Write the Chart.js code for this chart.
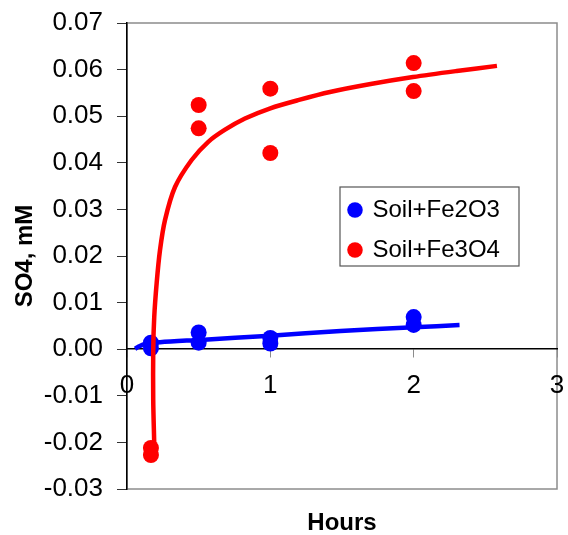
<!DOCTYPE html>
<html>
<head>
<meta charset="utf-8">
<script src="https://cdn.jsdelivr.net/npm/chart.js@4/dist/chart.umd.min.js"></script>
<style>
  body { margin: 0; background: #fff; }
  #wrap { width: 568px; height: 535px; position: relative; }
</style>
</head>
<body>
<div id="wrap"><canvas id="chart"></canvas></div>
<script>
// sampling times (hours) and measured sulfate (mM)
const hoursFe2O3 = [0.167, 0.167, 0.5, 0.5, 1, 1, 2, 2];
const so4Fe2O3 = [0.0014, 0.0002, 0.0036, 0.0014, 0.0024, 0.0012, 0.0069, 0.0052];
const hoursFe3O4 = [0.167, 0.167, 0.5, 0.5, 1, 1, 2, 2];
const so4Fe3O4 = [-0.0212, -0.0227, 0.0524, 0.0474, 0.0559, 0.0421, 0.0614, 0.0554];

// fitted trend curves
const trendHoursFe2O3 = [0.056, 0.084, 0.126, 0.23, 0.51, 1.0, 1.49, 2.0, 2.32];
const trendFe2O3 = [0.0001, 0.0006, 0.0011, 0.0015, 0.0020, 0.0029, 0.0039, 0.0047, 0.0052];
const trendHoursFe3O4 = [0.190, 0.183, 0.183, 0.190, 0.207, 0.230, 0.265, 0.335, 0.451, 0.567, 0.684, 0.823, 1.0, 1.2, 1.416, 1.7, 1.995, 2.3, 2.581];
const trendFe3O4 = [-0.0202, -0.0109, -0.0002, 0.0069, 0.0142, 0.0212, 0.0277, 0.0348, 0.0406, 0.0445, 0.0471, 0.0495, 0.0517, 0.0535, 0.0552, 0.0569, 0.0584, 0.0597, 0.0608];

const xTicks = [0, 1, 2, 3];
const yTicks = [-0.03, -0.02, -0.01, 0, 0.01, 0.02, 0.03, 0.04, 0.05, 0.06, 0.07];

const labels = ['Soil+Fe2O3', 'Soil+Fe3O4'];
const BLUE = '#0000ff';
const RED = '#ff0000';
const FONT = '"Liberation Sans", Arial, sans-serif';

const toPoints = (xs, ys) => xs.map((x, i) => ({ x: x, y: ys[i] }));

// gray plot frame (left edge is the black y axis)
const framePlugin = {
  id: 'frame',
  beforeDraw(chart) {
    const { ctx, chartArea: a } = chart;
    ctx.save();
    ctx.strokeStyle = '#8c8c8c';
    ctx.lineWidth = 1.5;
    ctx.strokeRect(a.left, a.top, a.right - a.left, a.bottom - a.top);
    ctx.restore();
  }
};

// put the legend inside the plot and box it
const legendBoxPlugin = {
  id: 'legendBox',
  afterLayout(chart) {
    const lg = chart.legend;
    const a = chart.chartArea;
    const w = lg.width, h = lg.height;
    lg.left = a.left + 206.5;
    lg.top = a.top + 159;
    lg.right = lg.left + w;
    lg.bottom = lg.top + h;
  },
  afterDraw(chart) {
    const { ctx, chartArea: a } = chart;
    ctx.save();
    ctx.strokeStyle = '#555';
    ctx.lineWidth = 1.2;
    ctx.strokeRect(a.left + 213, a.top + 164, 179, 79);
    ctx.restore();
  }
};

new Chart(document.getElementById('chart'), {
  type: 'scatter',
  data: {
    datasets: [
      {
        label: '',
        data: toPoints(trendHoursFe3O4, trendFe3O4),
        showLine: true,
        borderColor: RED,
        borderWidth: 4.5,
        pointRadius: 0,
        tension: 0.3
      },
      {
        label: labels[1],
        data: toPoints(hoursFe3O4, so4Fe3O4),
        backgroundColor: RED,
        borderColor: RED,
        borderWidth: 0,
        pointRadius: 8,
        pointHoverRadius: 8
      },
      {
        label: '',
        data: toPoints(trendHoursFe2O3, trendFe2O3),
        showLine: true,
        borderColor: BLUE,
        borderWidth: 4.5,
        pointRadius: 0,
        tension: 0.3
      },
      {
        label: labels[0],
        data: toPoints(hoursFe2O3, so4Fe2O3),
        backgroundColor: BLUE,
        borderColor: BLUE,
        borderWidth: 0,
        pointRadius: 8,
        pointHoverRadius: 8
      }
    ]
  },
  options: {
    responsive: true,
    maintainAspectRatio: false,
    animation: false,
    layout: { padding: { top: 23, right: 11, left: 0, bottom: 0 } },
    font: { family: FONT },
    scales: {
      x: {
        type: 'linear',
        position: { y: 0 },
        min: 0,
        max: 3,
        afterBuildTicks: (s) => { s.ticks = xTicks.map(v => ({ value: v })); },
        afterFit: (s) => { s.height = 0; s.paddingLeft = 0; s.paddingRight = 0; },
        grid: { drawOnChartArea: false, drawTicks: true, tickLength: 8, color: '#8c8c8c' },
        border: { display: true, color: '#000', width: 1.5 },
        ticks: {
          color: '#000',
          padding: 13,
          font: { size: 26, family: FONT },
          callback: (v) => String(v)
        }
      },
      y: {
        type: 'linear',
        position: 'left',
        min: -0.03,
        max: 0.07,
        afterBuildTicks: (s) => { s.ticks = yTicks.map(v => ({ value: v })); },
        afterFit: (s) => { s.width = 127; s.paddingTop = 0; s.paddingBottom = 0; },
        grid: { drawOnChartArea: false, drawTicks: true, tickLength: 10, color: '#333' },
        border: { display: true, color: '#000', width: 1.5 },
        ticks: {
          color: '#000',
          padding: 14,
          font: { size: 26, family: FONT },
          callback: (v) => Number(v).toFixed(2)
        },
        title: {
          display: true,
          text: 'SO4, mM',
          color: '#000',
          padding: { top: 11, bottom: 0 },
          font: { size: 24, weight: 'bold', family: FONT }
        }
      }
    },
    plugins: {
      title: {
        display: true,
        fullSize: false,
        position: 'bottom',
        text: 'Hours',
        color: '#000',
        padding: { top: 22, bottom: 0 },
        font: { size: 24, weight: 'bold', lineHeight: 1.0, family: FONT }
      },
      legend: {
        position: 'chartArea',
        align: 'start',
        labels: {
          filter: (item) => item.text !== '',
          usePointStyle: true,
          pointStyle: 'circle',
          boxWidth: 11,
          boxHeight: 11,
          padding: 16,
          color: '#000',
          font: { size: 24, family: FONT },
          sort: (a, b) => b.datasetIndex - a.datasetIndex
        }
      },
      tooltip: { enabled: false }
    }
  },
  plugins: [framePlugin, legendBoxPlugin]
});
</script>
</body>
</html>
